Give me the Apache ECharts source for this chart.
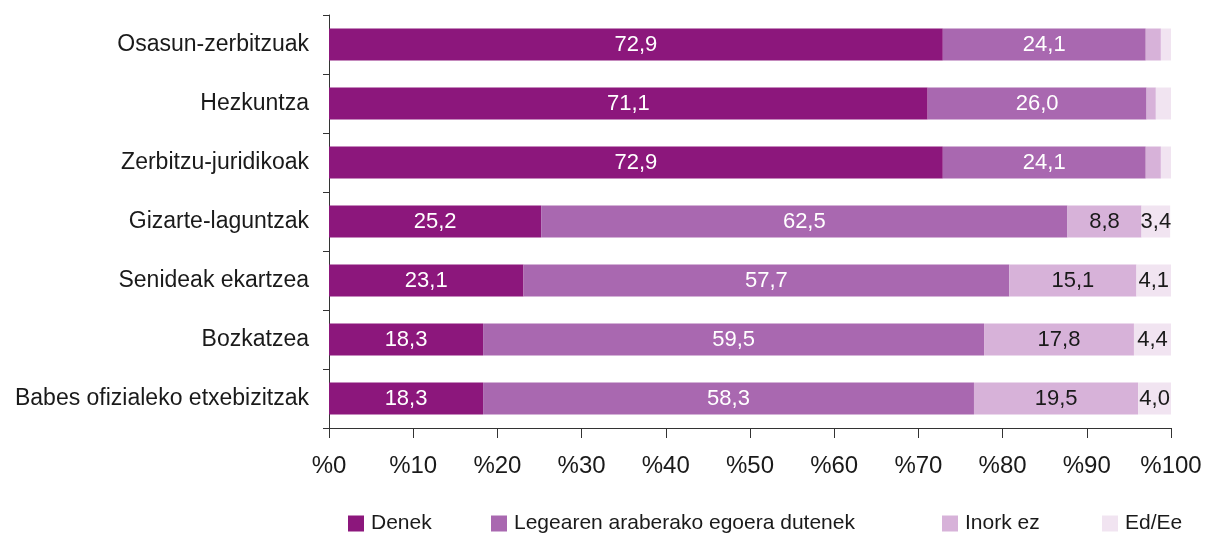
<!DOCTYPE html>
<html>
<head>
<meta charset="utf-8">
<script src="https://cdn.jsdelivr.net/npm/echarts@6/dist/echarts.min.js"></script>
<style>
  html, body { margin: 0; padding: 0; background: #fff; }
  #chart { width: 1206px; height: 534px; }
</style>
</head>
<body>
<div id="chart"></div>
<script>
// kategoriak (goitik behera)
var categories = [
  "Osasun-zerbitzuak",
  "Hezkuntza",
  "Zerbitzu-juridikoak",
  "Gizarte-laguntzak",
  "Senideak ekartzea",
  "Bozkatzea",
  "Babes ofizialeko etxebizitzak"
];
var seriesNames = ["Denek", "Legearen araberako egoera dutenek", "Inork ez", "Ed/Ee"];
var denek = [72.9, 71.1, 72.9, 25.2, 23.1, 18.3, 18.3];
var legearen = [24.1, 26.0, 24.1, 62.5, 57.7, 59.5, 58.3];
var inork = [1.8, 1.1, 1.8, 8.8, 15.1, 17.8, 19.5];
var eded = [1.2, 1.8, 1.2, 3.4, 4.1, 4.4, 4.0];
var xTicks = [0, 10, 20, 30, 40, 50, 60, 70, 80, 90, 100];

var colors = ["#8c177c", "#a968b0", "#d7b2d9", "#f1e4f1"];
var labelColors = ["#fff", "#fff", "#1a1a1a", "#1a1a1a"];
var values = [denek, legearen, inork, eded];

var chart = echarts.init(document.getElementById("chart"));

function fmt(p) {
  if (p.value < 3) return "";
  return p.value.toFixed(1).replace(".", ",");
}

var series = seriesNames.map(function (name, i) {
  return {
    name: name,
    type: "bar",
    stack: "total",
    barWidth: 32,
    data: values[i],
    itemStyle: { color: colors[i] },
    label: {
      show: true,
      position: "inside",
      formatter: fmt,
      color: labelColors[i],
      fontSize: 22,
      fontFamily: "Liberation Sans"
    },
    emphasis: { disabled: true }
  };
});

// legendak banaka, tartea ez baita berdina
var legendLeft = [348, 491, 942, 1102];
var legends = seriesNames.map(function (name, i) {
  return {
    data: [name],
    left: legendLeft[i],
    top: 513,
    padding: 0,
    icon: "rect",
    itemWidth: 16,
    itemHeight: 16,
    itemGap: 0,
    textStyle: {
      fontSize: 21,
      fontFamily: "Liberation Sans",
      color: "#1a1a1a",
      padding: [0, 0, 0, 2]
    }
  };
});

var option = {
  animation: false,
  grid: { left: 329, right: 35, top: 15, bottom: 106 },
  legend: legends,
  xAxis: {
    type: "value",
    min: 0,
    max: 100,
    interval: 10,
    splitLine: { show: false },
    axisLine: { show: true, lineStyle: { color: "#333", width: 1 } },
    axisTick: { show: true, length: 10, lineStyle: { color: "#333" } },
    axisLabel: {
      margin: 26,
      fontSize: 24,
      fontFamily: "Liberation Sans",
      color: "#1a1a1a",
      formatter: function (v) { return "%" + v; }
    }
  },
  yAxis: {
    type: "category",
    inverse: true,
    data: categories,
    axisLine: { show: true, lineStyle: { color: "#333", width: 1 } },
    axisTick: { show: true, length: 6, lineStyle: { color: "#333" } },
    axisLabel: {
      margin: 20,
      fontSize: 23,
      fontFamily: "Liberation Sans",
      color: "#1a1a1a"
    }
  },
  series: series
};

chart.setOption(option);
</script>
</body>
</html>
